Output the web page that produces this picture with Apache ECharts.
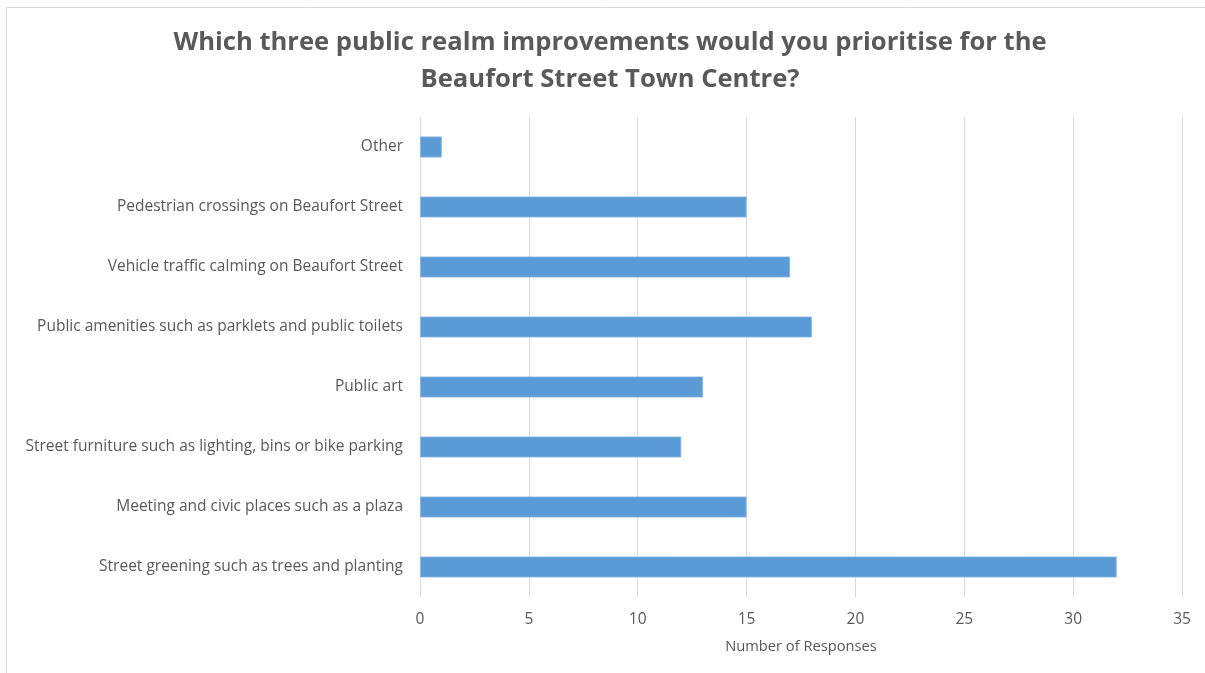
<!DOCTYPE html>
<html>
<head>
<meta charset="utf-8">
<script src="https://cdn.jsdelivr.net/npm/echarts@6/dist/echarts.min.js"></script>
<style>
  html, body { margin: 0; padding: 0; background: #ffffff; }
  #chart { width: 1205px; height: 673px; }
</style>
</head>
<body>
<div id="chart"></div>
<script>
// Survey responses: public realm improvement priorities
const categories = [
  'Street greening such as trees and planting',
  'Meeting and civic places such as a plaza',
  'Street furniture such as lighting, bins or bike parking',
  'Public art',
  'Public amenities such as parklets and public toilets',
  'Vehicle traffic calming on Beaufort Street',
  'Pedestrian crossings on Beaufort Street',
  'Other'
];
const responses = [32, 15, 12, 13, 18, 17, 15, 1];
const titleLines = [
  'Which three public realm improvements would you prioritise for the',
  'Beaufort Street Town Centre?'
];
const axisName = 'Number of Responses';

const textColor = '#595959';
const gridColor = '#d9d9d9';

const chart = echarts.init(document.getElementById('chart'), null, { renderer: 'canvas' });
chart.setOption({
  backgroundColor: '#ffffff',
  animation: false,
  title: {
    text: titleLines.join('\n'),
    left: 605,
    textAlign: 'center',
    top: 19,
    textStyle: {
      fontFamily: 'Open Sans',
      fontSize: 25.6,
      fontWeight: 'bold',
      color: textColor,
      lineHeight: 37
    }
  },
  graphic: [{
    type: 'rect',
    shape: { x: 6.5, y: 7.5, width: 1210, height: 700 },
    style: { fill: 'none', stroke: gridColor, lineWidth: 1 },
    silent: true
  }],
  grid: { left: 420, right: 23, top: 117, bottom: 76, containLabel: false },
  xAxis: {
    type: 'value',
    min: 0,
    max: 35,
    interval: 5,
    name: axisName,
    nameLocation: 'middle',
    nameGap: 42,
    nameTextStyle: { fontFamily: 'Open Sans', fontSize: 14.7, color: textColor },
    axisLine: { show: false },
    axisTick: { show: false },
    axisLabel: { fontFamily: 'Open Sans', fontSize: 15.5, color: textColor, margin: 15 },
    splitLine: { show: true, lineStyle: { color: gridColor, width: 1 } }
  },
  yAxis: {
    type: 'category',
    data: categories,
    axisLine: { show: false },
    axisTick: { show: false },
    axisLabel: { fontFamily: 'Open Sans', fontSize: 15.5, color: textColor, margin: 17, padding: [3, 0, 0, 0] }
  },
  series: [{
    type: 'bar',
    data: responses,
    barWidth: 21,
    itemStyle: { color: '#5b9bd5', borderColor: '#8db8e3', borderWidth: 0.8 }
  }]
});
</script>
</body>
</html>
